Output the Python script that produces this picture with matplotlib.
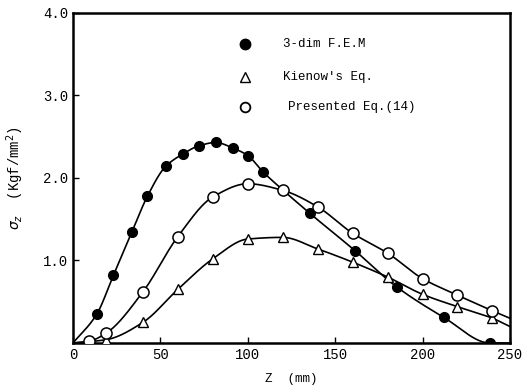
import numpy as np
import matplotlib
matplotlib.use('Agg')
import matplotlib.pyplot as plt

# 3-dim F.E.M (filled circles)
fem_z = [13.6, 23.1, 33.6, 42.6, 53.0, 62.8, 72.1, 81.6, 91.8, 100.1, 108.9, 120.3, 135.6, 161.3, 185.2, 212.2, 238.6]
fem_s = [0.35, 0.82, 1.34, 1.78, 2.14, 2.29, 2.39, 2.43, 2.36, 2.27, 2.07, 1.85, 1.57, 1.12, 0.68, 0.31, 0.0]

# Kienow's Eq. (open triangles)
kie_z = [19, 40, 60, 80, 100, 120, 140, 160, 180, 200, 220, 240]
kie_s = [0.04, 0.25, 0.65, 1.02, 1.26, 1.28, 1.14, 0.98, 0.80, 0.59, 0.44, 0.30]

# Presented Eq.(14) (open circles)
pre_z = [9, 19, 40, 60, 80, 100, 120, 140, 160, 180, 200, 220, 240]
pre_s = [0.02, 0.12, 0.62, 1.29, 1.77, 1.93, 1.85, 1.65, 1.33, 1.09, 0.78, 0.58, 0.39]

# curve end values at z=250
fem_end = 0.0
kie_end = 0.20
pre_end = 0.30


def pchip(x, y, xn):
    x = np.asarray(x, float)
    y = np.asarray(y, float)
    h = np.diff(x)
    d = np.diff(y) / h
    m = np.zeros_like(y)
    for k in range(1, len(x) - 1):
        if d[k - 1] * d[k] > 0:
            w1 = 2 * h[k] + h[k - 1]
            w2 = h[k] + 2 * h[k - 1]
            m[k] = (w1 + w2) / (w1 / d[k - 1] + w2 / d[k])
    m[0] = d[0]
    m[-1] = d[-1]
    i = np.clip(np.searchsorted(x, xn) - 1, 0, len(x) - 2)
    t = (xn - x[i]) / h[i]
    h00 = 2 * t**3 - 3 * t**2 + 1
    h10 = t**3 - 2 * t**2 + t
    h01 = -2 * t**3 + 3 * t**2
    h11 = t**3 - t**2
    return h00 * y[i] + h10 * h[i] * m[i] + h01 * y[i + 1] + h11 * h[i] * m[i + 1]


def curve(z, s, end):
    xs = [0] + list(z) + [250]
    ys = [0] + list(s) + [end]
    xn = np.linspace(0, 250, 600)
    return xn, np.clip(pchip(xs, ys, xn), 0, None)


mono = 'Liberation Mono'
plt.rcParams['font.family'] = [mono, 'DejaVu Sans']

fig = plt.figure(figsize=(5.23, 3.92), dpi=100)
ax = fig.add_axes([0.1396, 0.125, 0.8354, 0.842])

for z, s, end in [(fem_z, fem_s, fem_end), (kie_z, kie_s, kie_end), (pre_z, pre_s, pre_end)]:
    xn, yn = curve(z, s, end)
    ax.plot(xn, yn, color='black', lw=1.2, zorder=2)

ax.plot(fem_z, fem_s, 'o', ms=7, mfc='black', mec='black', zorder=3)
ax.plot(kie_z, kie_s, '^', ms=6.5, mfc='white', mec='black', mew=1.0, zorder=3)
ax.plot(pre_z, pre_s, 'o', ms=8, mfc='white', mec='black', mew=1.1, zorder=3)

# legend drawn as in the original figure
ax.plot([98.5], [3.62], 'o', ms=7.5, mfc='black', mec='black')
ax.plot([98.5], [3.22], '^', ms=6.5, mfc='white', mec='black')
ax.plot([98.5], [2.86], 'o', ms=7, mfc='white', mec='black', mew=1.3)
ax.text(120, 3.62, '3-dim F.E.M', fontsize=9, va='center')
ax.text(120, 3.22, "Kienow's Eq.", fontsize=9, va='center')
ax.text(123, 2.86, 'Presented Eq.(14)', fontsize=9, va='center')

ax.set_xlim(0, 250)
ax.set_ylim(0, 4.0)
ax.set_xticks([0, 50, 100, 150, 200, 250])
ax.set_yticks([1.0, 2.0, 3.0, 4.0])
ax.set_yticklabels(['1.0', '2.0', '3.0', '4.0'])
ax.tick_params(direction='in', length=4, width=1, labelsize=10)
for sp in ax.spines.values():
    sp.set_linewidth(1.8)

ax.set_xlabel('Z  (mm)', fontsize=9, labelpad=8)
ax.set_ylabel(r'$\sigma_z$  (Kgf/mm$^2$)', fontsize=10, labelpad=12)

fig.savefig('out.png', dpi=100)
